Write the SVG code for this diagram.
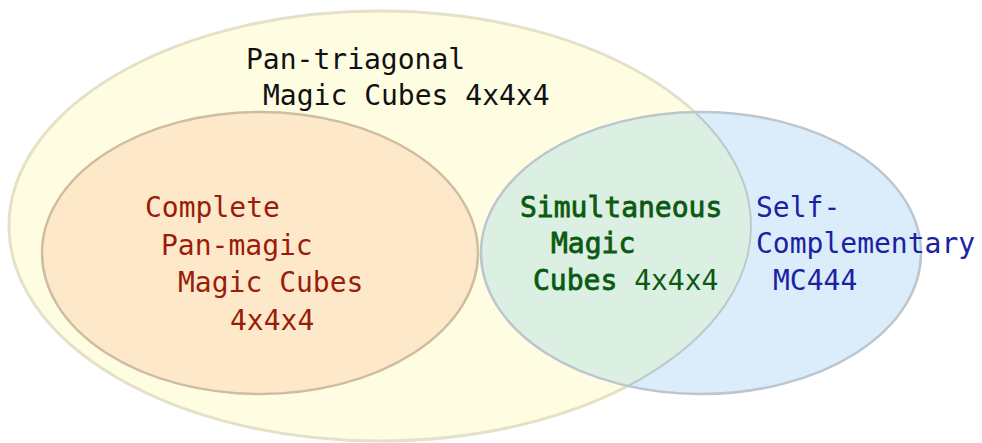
<svg xmlns="http://www.w3.org/2000/svg" width="982" height="443" viewBox="0 0 982 443">
<defs>
<clipPath id="clipY"><ellipse cx="380" cy="226" rx="371" ry="215"/></clipPath>
<clipPath id="clipB"><ellipse cx="701" cy="253" rx="220" ry="141"/></clipPath>
</defs>
<style>
text{font-family:"DejaVu Sans Mono","Liberation Mono",monospace;font-size:28px}
.k{fill:#111111}
.r{fill:#9a1d0b}
.g{fill:#0b5a12}
.b{fill:#1a22a2}
.bold{stroke:#0b5a12;stroke-width:0.8}
</style>
<rect width="982" height="443" fill="#ffffff"/>
<g id="pan-triagonal">
<ellipse cx="380" cy="226" rx="371" ry="215" fill="#fefde2" stroke="#e4e1c8" stroke-width="3"/>
</g>
<g id="complete">
<ellipse cx="260" cy="253" rx="218" ry="141" fill="#fde9ca" stroke="#cfbda2" stroke-width="2.5"/>
</g>
<g id="self-complementary">
<ellipse cx="701" cy="253" rx="220" ry="141" fill="#dbecfb"/>
<ellipse cx="701" cy="253" rx="220" ry="141" fill="#dbefe3" clip-path="url(#clipY)"/>
<ellipse cx="380" cy="226" rx="371" ry="215" fill="none" stroke="#bccaca" stroke-width="2" clip-path="url(#clipB)"/>
<ellipse cx="701" cy="253" rx="220" ry="141" fill="none" stroke="#bcc6cc" stroke-width="2.5"/>
</g>
<g id="connectors"/>
<g id="labels">
<text class="k" x="246" y="69">Pan-triagonal</text>
<text class="k" x="263" y="105">Magic Cubes 4x4x4</text>
<text class="r" x="145" y="217">Complete</text>
<text class="r" x="161" y="255">Pan-magic</text>
<text class="r" x="178" y="292">Magic Cubes</text>
<text class="r" x="230" y="330">4x4x4</text>
<text class="g bold" x="520" y="217">Simultaneous</text>
<text class="g bold" x="551" y="253">Magic</text>
<text class="g" x="533" y="290"><tspan class="bold">Cubes</tspan> 4x4x4</text>
<text class="b" x="756" y="217">Self-</text>
<text class="b" x="756" y="253">Complementary</text>
<text class="b" x="773" y="290">MC444</text>
</g>
</svg>
